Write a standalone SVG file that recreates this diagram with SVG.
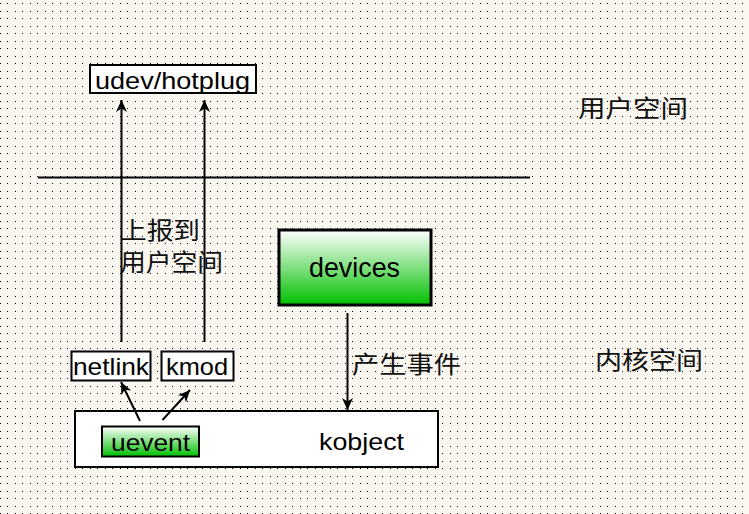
<svg xmlns="http://www.w3.org/2000/svg" width="749" height="514" viewBox="0 0 749 514">
<defs>
<pattern id="dots" x="0" y="3" width="15" height="15" patternUnits="userSpaceOnUse">
<rect x="0" y="0" width="1" height="1" fill="#000"/>
<rect x="7" y="0" width="1" height="1" fill="#000"/>
<rect x="0" y="8" width="1" height="1" fill="#000"/>
<rect x="7" y="8" width="1" height="1" fill="#000"/>
</pattern>
<linearGradient id="green" x1="0" y1="0" x2="0" y2="1">
<stop offset="0" stop-color="#FFFFFF"/>
<stop offset="1" stop-color="#00C000"/>
</linearGradient>
<marker id="arr" markerUnits="userSpaceOnUse" markerWidth="14" markerHeight="14" refX="12" refY="7" orient="auto">
<path d="M0,1.5 L12,7 L0,12.5 L3.5,7 z" fill="#000"/>
</marker>
<style>
.box{fill:#fff;stroke:#000;stroke-width:2}
.gbox{fill:url(#green);stroke:#000;stroke-width:2}
.lbl{font-family:"Liberation Sans",Arial,sans-serif;font-size:24px;fill:#000}
.cjk{font-family:"Noto Sans CJK SC","Noto Sans CJK TC",sans-serif;font-size:24px;fill:#111}
.ln{stroke:#000;stroke-width:2;fill:none}
</style>
</defs>
<rect width="749" height="514" fill="#FAF7F0"/>
<rect width="749" height="514" fill="url(#dots)"/>

<line class="ln" x1="38" y1="177.5" x2="530" y2="177.5"/>

<g id="udev">
<rect class="box" x="90" y="65" width="166" height="28"/>
<text class="lbl" x="95" y="89" textLength="155" lengthAdjust="spacingAndGlyphs">udev/hotplug</text>
</g>
<g id="devices">
<rect class="gbox" x="279" y="230" width="152" height="75" style="stroke-width:3"/>
<text class="lbl" x="309" y="277" style="font-size:27px" textLength="91" lengthAdjust="spacingAndGlyphs">devices</text>
</g>
<g id="netlink">
<rect class="box" x="71.5" y="351.5" width="79" height="29"/>
<text class="lbl" x="73" y="375" textLength="76" lengthAdjust="spacingAndGlyphs">netlink</text>
</g>
<g id="kmod">
<rect class="box" x="161.5" y="351.5" width="72" height="29"/>
<text class="lbl" x="166" y="375" textLength="62" lengthAdjust="spacingAndGlyphs">kmod</text>
</g>
<g id="kobject">
<rect class="box" x="75" y="411" width="363" height="56"/>
<text class="lbl" x="319" y="450" textLength="85" lengthAdjust="spacingAndGlyphs">kobject</text>
</g>
<g id="uevent">
<rect class="gbox" x="102" y="426.5" width="97" height="30"/>
<text class="lbl" x="111" y="451" textLength="79" lengthAdjust="spacingAndGlyphs">uevent</text>
</g>

<g id="connectors">
<line class="ln" x1="121.5" y1="342" x2="121.5" y2="100" marker-end="url(#arr)"/>
<line class="ln" x1="204.5" y1="342" x2="204.5" y2="100" marker-end="url(#arr)"/>
<line class="ln" x1="347.5" y1="313" x2="347.5" y2="410" marker-end="url(#arr)"/>
<line class="ln" x1="140" y1="421" x2="121" y2="382" marker-end="url(#arr)"/>
<line class="ln" x1="162.5" y1="420" x2="190" y2="390" marker-end="url(#arr)"/>
</g>

<g id="labels">
<text class="cjk" x="578" y="117" textLength="110" lengthAdjust="spacingAndGlyphs">用户空间</text>
<text class="cjk" x="120" y="239" textLength="80" lengthAdjust="spacingAndGlyphs">上报到</text>
<text class="cjk" x="120" y="271" textLength="103" lengthAdjust="spacingAndGlyphs">用户空间</text>
<text class="cjk" x="352" y="373" textLength="109" lengthAdjust="spacingAndGlyphs">产生事件</text>
<text class="cjk" x="595" y="369" textLength="108" lengthAdjust="spacingAndGlyphs">内核空间</text>
</g>
</svg>
